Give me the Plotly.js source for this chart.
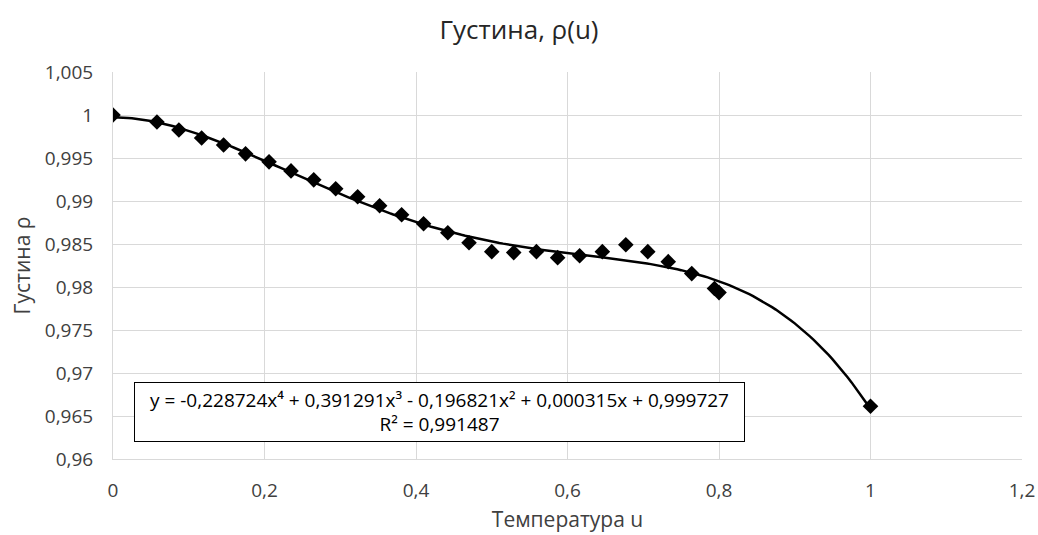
<!DOCTYPE html>
<html>
<head>
<meta charset="utf-8">
<script src="https://cdn.plot.ly/plotly-3.0.1.min.js"></script>
<style>html,body{margin:0;padding:0;background:#fff;}#chart{width:1038px;height:535px;}</style>
</head>
<body>
<div id="chart"></div>
<script>
// Measured data points (u, rho)
var uValues = [0, 0.058, 0.087, 0.117, 0.146, 0.175, 0.206, 0.235, 0.265, 0.294, 0.323, 0.352, 0.381, 0.410, 0.442, 0.470, 0.500, 0.529, 0.559, 0.587, 0.616, 0.646, 0.677, 0.706, 0.733, 0.764, 0.794, 0.800, 1.000];
var rhoValues = [1.0000, 0.99919, 0.99826, 0.99733, 0.99652, 0.99548, 0.99455, 0.99350, 0.99246, 0.99142, 0.99049, 0.98944, 0.98840, 0.98736, 0.98631, 0.98515, 0.98411, 0.98400, 0.98411, 0.98341, 0.98364, 0.98411, 0.98492, 0.98411, 0.98295, 0.98156, 0.97982, 0.97935, 0.96613];

// Polynomial trendline coefficients shown on the chart (x^4 ... x^0)
var trendCoefs = [-0.228724, 0.391291, -0.196821, 0.000315, 0.999727];
var trendLabel = "y = -0,228724x⁴ + 0,391291x³ - 0,196821x² + 0,000315x + 0,999727<br>R² = 0,991487";

// Axis ticks
var xTickVals = [0, 0.2, 0.4, 0.6, 0.8, 1, 1.2];
var xTickText = ["0", "0,2", "0,4", "0,6", "0,8", "1", "1,2"];
var yTickVals = [0.96, 0.965, 0.97, 0.975, 0.98, 0.985, 0.99, 0.995, 1, 1.005];
var yTickText = ["0,96", "0,965", "0,97", "0,975", "0,98", "0,985", "0,99", "0,995", "1", "1,005"];

// Trendline evaluated along the data's u-range
var trendX = [], trendY = [];
var u0 = uValues[0], u1 = uValues[uValues.length - 1];
for (var i = 0; i <= 200; i++) {
  var x = u0 + (u1 - u0) * i / 200;
  var y = 0;
  for (var k = 0; k < trendCoefs.length; k++) y = y * x + trendCoefs[k];
  trendX.push(x); trendY.push(y);
}

var font = "'Open Sans', 'Noto Sans', sans-serif";

var traces = [
  {x: trendX, y: trendY, mode: "lines", line: {color: "#000", width: 2.5}, hoverinfo: "skip", showlegend: false},
  {x: uValues, y: rhoValues, mode: "markers", marker: {symbol: "diamond", color: "#000", size: 12}, showlegend: false}
];

var layout = {
  width: 1038, height: 535,
  margin: {l: 113, r: 16, t: 72, b: 76},
  paper_bgcolor: "#fff", plot_bgcolor: "#fff",
  font: {family: font, color: "#404040", size: 18},
  title: {text: "Густина, ρ(u)", font: {family: font, size: 26, color: "#262626"}, x: 0.5, xanchor: "center", y: 0.944, yanchor: "middle"},
  xaxis: {
    range: [0, 1.2], tickvals: xTickVals, ticktext: xTickText,
    showgrid: true, gridcolor: "#d9d9d9", gridwidth: 1,
    zeroline: false, showline: true, linecolor: "#d9d9d9", linewidth: 1,
    ticks: "", ticklabelstandoff: 14, tickfont: {size: 19, color: "#404040"},
    title: {text: "Температура u", font: {size: 21, color: "#404040"}, standoff: 10}
  },
  yaxis: {
    range: [0.96, 1.005], tickvals: yTickVals, ticktext: yTickText,
    showgrid: true, gridcolor: "#d9d9d9", gridwidth: 1,
    zeroline: false, showline: true, linecolor: "#d9d9d9", linewidth: 1,
    ticks: "", ticklabelstandoff: 15, tickfont: {size: 19, color: "#404040"},
    title: {text: "Густина ρ", font: {size: 21, color: "#404040"}, standoff: 8}
  },
  annotations: [{
    xref: "paper", yref: "paper", x: 0.359, y: 0.1227, xanchor: "center", yanchor: "middle",
    text: trendLabel, showarrow: false, align: "center",
    font: {family: font, size: 19, color: "#000"},
    bgcolor: "#fff", bordercolor: "#000", borderwidth: 1, borderpad: 3,
    width: 603, height: 52
  }]
};

Plotly.newPlot("chart", traces, layout, {displayModeBar: false, staticPlot: true});
</script>
</body>
</html>
